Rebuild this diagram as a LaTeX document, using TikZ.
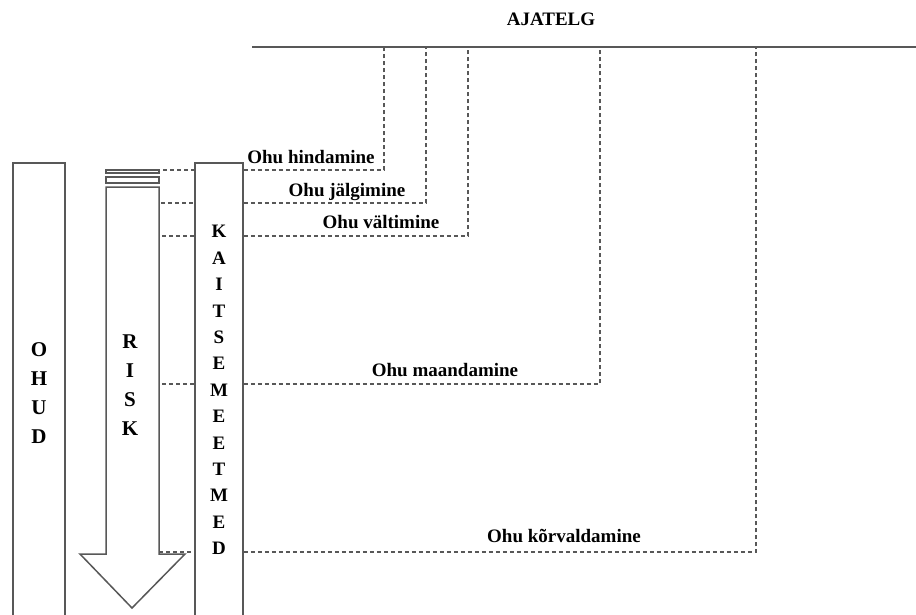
\documentclass[tikz,border=0pt]{standalone}
\usepackage{fontspec}
\setmainfont{Liberation Serif}
\definecolor{linegray}{HTML}{585858}
\begin{document}
\begin{tikzpicture}[x=1pt,y=-1pt,
  frame/.style={draw=linegray, line width=1.5pt},
  link/.style={draw=linegray, line width=1.3pt, dash pattern=on 4pt off 3pt},
  lbl/.style={font=\fontsize{19}{22}\selectfont\bfseries, inner sep=0pt, anchor=base},
  colbox/.style={frame, minimum height=470pt, anchor=north, inner sep=0pt},
  stackbig/.style={font=\fontsize{21}{29}\selectfont\bfseries, align=center, inner sep=0pt},
  stacksmall/.style={font=\fontsize{19}{26.4}\selectfont\bfseries, align=center, inner sep=0pt}]
\useasboundingbox (0,0) rectangle (916,614);

% timeline
\coordinate (tl0) at (252,47);
\coordinate (tl1) at (916,47);
\draw[frame] (tl0) -- (tl1);
\node[lbl] (ajatelg) at (551,25) {AJATELG};

% column of hazards
\node[colbox, minimum width=52pt] (ohud) at (39,162) {};
\node[stackbig] (ohudtxt) at (39,393) {O\\H\\U\\D};

% protective measures column
\node[colbox, minimum width=48pt] (kaitse) at (219,162) {};
\node[stacksmall] (kaitsetxt) at (219,390) {K\\A\\I\\T\\S\\E\\M\\E\\E\\T\\M\\E\\D};

% risk arrow with two thin bars on top
\draw[frame] (106,170) rectangle (159,173);
\draw[frame] (106,177) rectangle (159,183);
\draw[frame] (106,187) -- (159,187) -- (159,554) -- (185,554) -- (132,608)
  -- (80,554) -- (106,554) -- cycle;
\node[stackbig] (risktxt) at (130,385) {R\\I\\S\\K};

% points on the risk arrow
\coordinate (r1) at (163,170);
\coordinate (r2) at (161,203);
\coordinate (r3) at (162,236);
\coordinate (r4) at (162,384);
\coordinate (r5) at (159,552);

% points on the timeline
\coordinate (t1) at (384,47);
\coordinate (t2) at (426,47);
\coordinate (t3) at (468,47);
\coordinate (t4) at (600,47);
\coordinate (t5) at (756,47);

% dashed links: risk -> measures -> timeline
\foreach \i in {1,...,5}{
  \draw[link] (r\i) -- (kaitse.west |- r\i);
  \draw[link] (kaitse.east |- r\i) -- (t\i |- r\i) -- (t\i);
}

\node[lbl] (l1) at (311,163) {Ohu hindamine};
\node[lbl] (l2) at (347,196) {Ohu jälgimine};
\node[lbl] (l3) at (381,228) {Ohu vältimine};
\node[lbl] (l4) at (445,376) {Ohu maandamine};
\node[lbl] (l5) at (564,542) {Ohu kõrvaldamine};
\end{tikzpicture}
\end{document}
